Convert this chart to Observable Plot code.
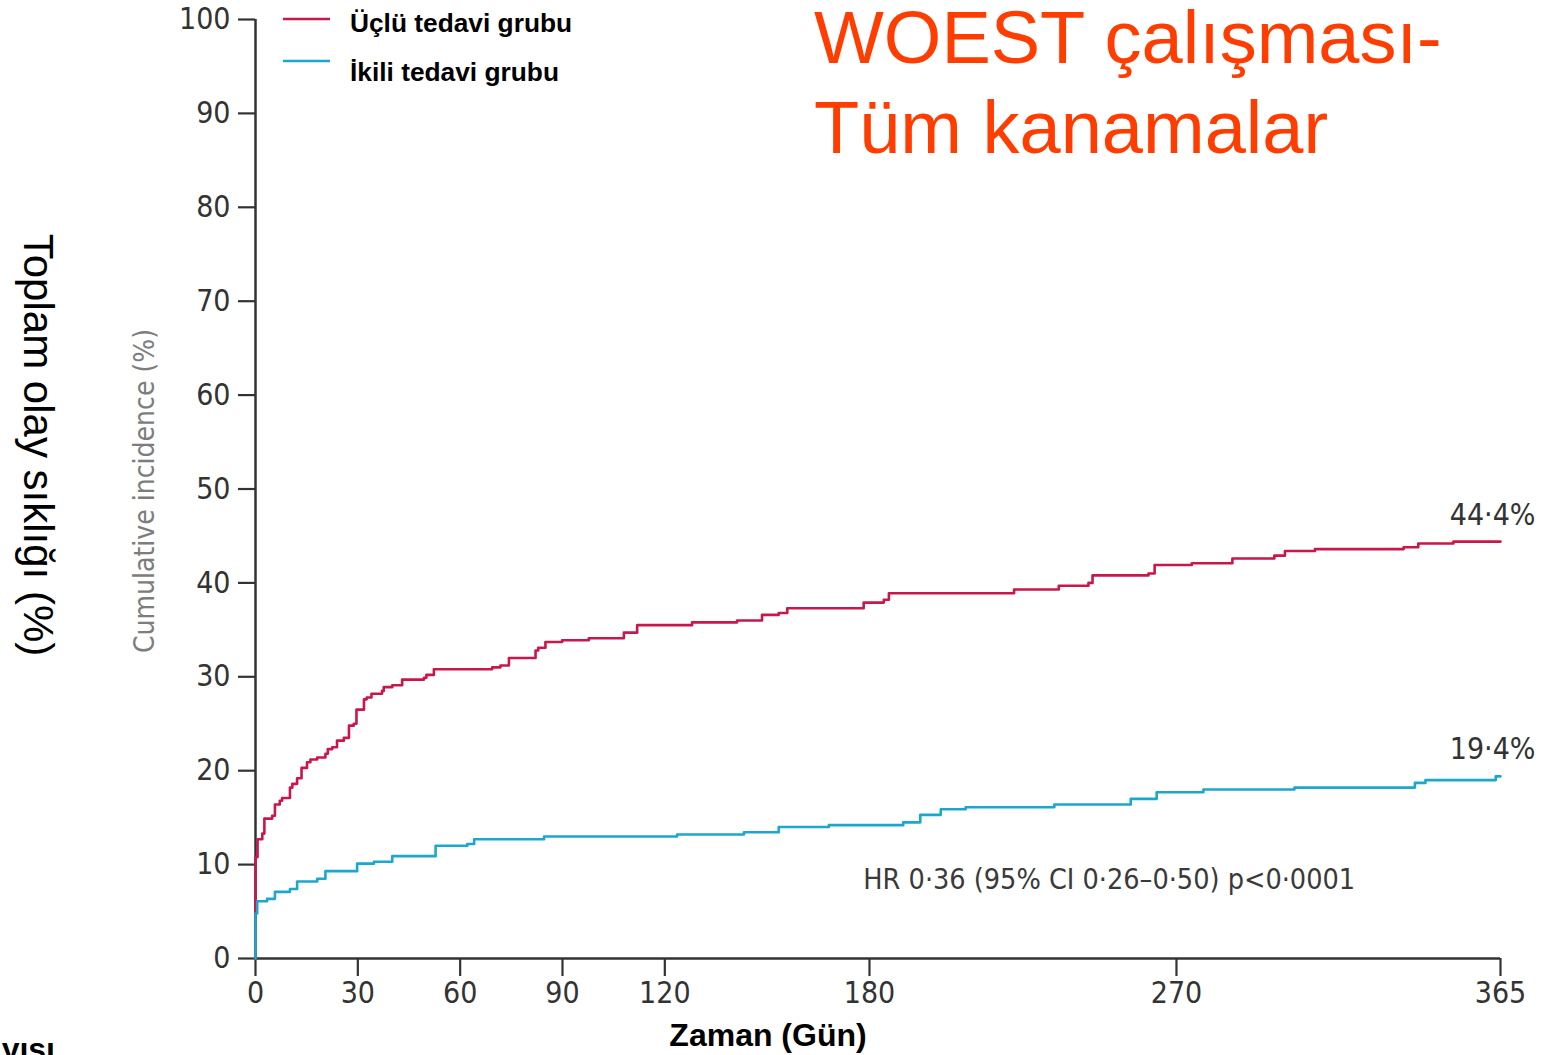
<!DOCTYPE html>
<html>
<head>
<meta charset="utf-8">
<script src="https://cdn.jsdelivr.net/npm/d3@7"></script>
<script src="https://cdn.jsdelivr.net/npm/@observablehq/plot@0.6"></script>
<style>
  html, body { margin: 0; padding: 0; background: #fff; overflow: hidden; }
  #wrap { position: relative; width: 1554px; height: 1055px; overflow: hidden; }
  #wrap > svg { position: absolute; left: 0; top: 0; }
</style>
</head>
<body>
<div id="wrap"></div>
<script>
// Cumulative incidence of any bleeding, WOEST trial, by treatment group
const seriesNames = ["Üçlü tedavi grubu", "İkili tedavi grubu"];
const seriesColors = ["#c8174a", "#1ba8cc"];

// Triple therapy: step times (days) and cumulative incidence (%)
const tripleDays = [0, 0, 0.6, 2.0, 2.6, 4.9, 5.7, 7.1, 7.8, 10.1, 10.8, 12.2, 13.5, 15.1, 16.1, 18.1,
  20.5, 21.2, 22.5, 23.9, 25.9, 27.4, 28.8, 29.6, 31.8, 32.6, 34.0, 37.1, 37.6, 40.1, 43.0, 49.4,
  50.1, 52.3, 69.4, 71.8, 74.3, 82.1, 82.9, 85.0, 89.9, 97.7, 108.0, 111.9, 128.0, 141.2, 148.5,
  153.4, 155.9, 178.3, 184.2, 185.7, 222.4, 235.5, 244.2, 245.4, 261.8, 263.6, 274.5, 286.4,
  298.7, 301.8, 310.6, 336.6, 340.9, 351.2, 365];
const tripleRisk = [0, 10.8, 12.7, 13.3, 14.9, 15.2, 16.4, 16.8, 17.1, 18.2, 18.6, 19.2, 20.3, 20.9, 21.2, 21.4,
  21.8, 22.3, 22.5, 23.2, 23.5, 24.8, 25.0, 26.5, 27.6, 27.8, 28.2, 28.5, 28.9, 29.1, 29.7, 29.9,
  30.2, 30.8, 31.0, 31.2, 32.0, 32.8, 33.1, 33.7, 33.9, 34.1, 34.7, 35.5, 35.8, 36.0, 36.6,
  36.8, 37.3, 37.9, 38.2, 38.9, 39.3, 39.7, 40.0, 40.8, 41.0, 41.9, 42.1, 42.6,
  42.9, 43.4, 43.6, 43.8, 44.2, 44.4, 44.4];

// Dual therapy: step times (days) and cumulative incidence (%)
const dualDays = [0, 0, 0.5, 3.4, 5.7, 10.1, 12.2, 18.1, 20.5, 29.8, 34.7, 40.1, 52.8, 62.1, 64.1, 84.6,
  123.6, 143.2, 153.4, 168.1, 189.9, 194.9, 200.9, 208.2, 234.2, 256.6, 264.2, 277.9, 304.6,
  339.9, 343.0, 363.6, 365];
const dualRisk = [0, 4.8, 6.1, 6.35, 7.1, 7.4, 8.2, 8.5, 9.3, 10.1, 10.3, 10.9, 12.0, 12.2, 12.7, 13.0,
  13.2, 13.45, 14.0, 14.2, 14.5, 15.3, 15.9, 16.1, 16.4, 17.0, 17.7, 18.0, 18.2,
  18.7, 19.0, 19.4, 19.4];

const xTicks = [0, 30, 60, 90, 120, 180, 270, 365];
const yTicks = [0, 10, 20, 30, 40, 50, 60, 70, 80, 90, 100];

const titleLines = ["WOEST çalışması-", "Tüm kanamalar"];
const yLabelInner = "Cumulative incidence (%)";
const yLabelOuter = "Toplam olay sıklığı (%)";
const xLabel = "Zaman (Gün)";
const footText = "Hasta sayısı";
const hrText = "HR 0·36 (95% CI 0·26–0·50) p<0·0001";
const hrDay = 178.2, hrLevel = 7.45;

const NARROW = "'Liberation Sans Narrow', 'DejaVu Sans Condensed', sans-serif";
const SANS = "'Liberation Sans', Arial, sans-serif";

const tripleData = tripleDays.map((d, i) => ({day: d, risk: tripleRisk[i]}));
const dualData = dualDays.map((d, i) => ({day: d, risk: dualRisk[i]}));
const fmt = v => v.toFixed(1).replace(".", "·") + "%";
const endData = [tripleData, dualData].map(s => {
  const last = s[s.length - 1];
  return {day: last.day, risk: last.risk, label: fmt(last.risk)};
});

const chart = Plot.plot({
  width: 1554,
  height: 1055,
  marginLeft: 255,
  marginRight: 54,
  marginTop: 19,
  marginBottom: 97,
  x: {domain: [0, 365]},
  y: {domain: [0, 100]},
  style: {fontFamily: NARROW, color: "#333", background: "transparent", overflow: "visible"},
  marks: [
    Plot.axisY(yTicks, {tickSize: 17, tickPadding: 8, fontSize: 30, strokeWidth: 2.2, label: null}),
    Plot.axisX(xTicks, {tickSize: 18, tickPadding: 5, fontSize: 30, strokeWidth: 2.2, label: null}),
    Plot.ruleX([0], {stroke: "#333", strokeWidth: 2.5}),
    Plot.ruleY([0], {stroke: "#333", strokeWidth: 2.5}),
    Plot.line(tripleData, {x: "day", y: "risk", curve: "step-after", stroke: seriesColors[0], strokeWidth: 2.6}),
    Plot.line(dualData, {x: "day", y: "risk", curve: "step-after", stroke: seriesColors[1], strokeWidth: 2.6}),
    Plot.text(endData, {x: "day", y: "risk", text: "label", textAnchor: "end", lineAnchor: "bottom",
      dx: 35, dy: -17, fontSize: 30, fill: "#333"}),
    Plot.text([hrText], {x: () => hrDay, y: () => hrLevel, text: d => d, textAnchor: "start",
      lineAnchor: "bottom", fontSize: 28.5, fill: "#3a3a3a"})
  ]
});

const wrap = document.getElementById("wrap");
wrap.appendChild(chart);

// Title, legend and outer labels
const svg = d3.select(wrap).append("svg")
  .attr("width", 1554).attr("height", 1055)
  .style("pointer-events", "none");

const title = svg.append("text")
  .attr("font-family", SANS).attr("font-size", 74).attr("fill", "#ff3d00");
titleLines.forEach((t, i) => title.append("tspan").attr("x", 814).attr("y", 63 + i * 90).text(t));

const legend = svg.append("g");
seriesNames.forEach((name, i) => {
  const y = 19 + i * 42;
  legend.append("line").attr("x1", 283).attr("x2", 330).attr("y1", y).attr("y2", y)
    .attr("stroke", seriesColors[i]).attr("stroke-width", 2.6);
  legend.append("text").attr("x", 350).attr("y", 32 + i * 48.5)
    .attr("font-family", SANS).attr("font-weight", "bold").attr("font-size", 26.3).attr("fill", "#000")
    .text(name);
});

svg.append("text")
  .attr("transform", "translate(154,491) rotate(-90)")
  .attr("text-anchor", "middle")
  .attr("font-family", NARROW).attr("font-size", 28).attr("fill", "#7d7d7d")
  .text(yLabelInner);

svg.append("text")
  .attr("transform", "translate(24,445) rotate(90)")
  .attr("text-anchor", "middle")
  .attr("font-family", SANS).attr("font-size", 42).attr("fill", "#000")
  .text(yLabelOuter);

svg.append("text")
  .attr("x", 768).attr("y", 1046)
  .attr("text-anchor", "middle")
  .attr("font-family", SANS).attr("font-weight", "bold").attr("font-size", 32).attr("fill", "#000")
  .text(xLabel);

svg.append("text")
  .attr("x", 55).attr("y", 1060)
  .attr("text-anchor", "end")
  .attr("font-family", SANS).attr("font-weight", "bold").attr("font-size", 32).attr("fill", "#000")
  .text(footText);
</script>
</body>
</html>
